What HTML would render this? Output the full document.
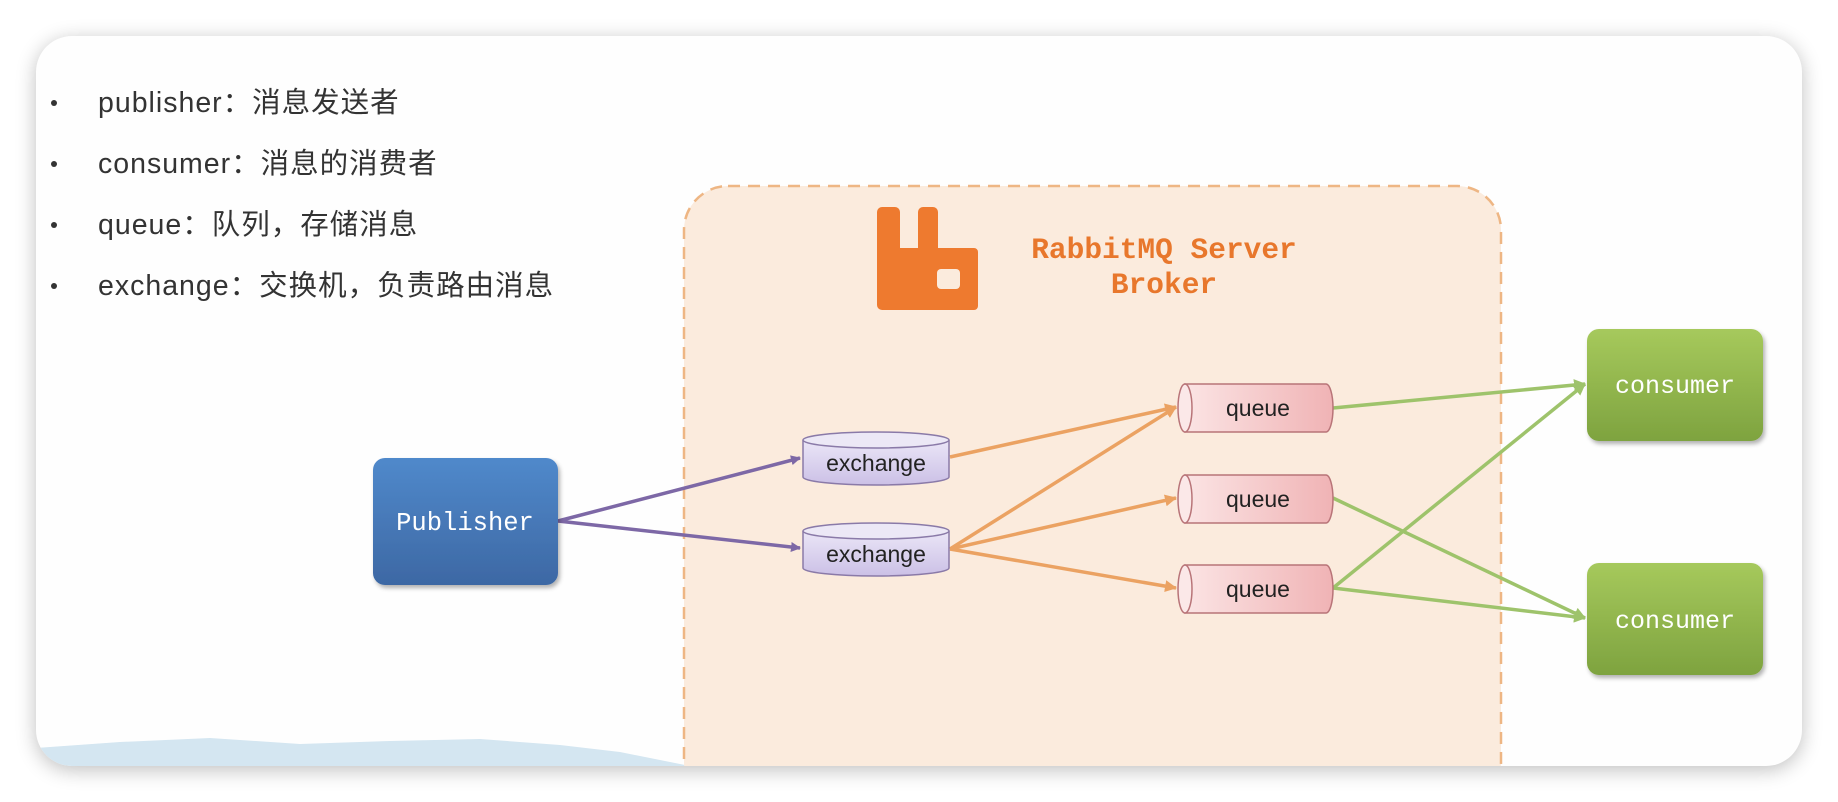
<!DOCTYPE html>
<html><head><meta charset="utf-8"><style>
html,body{margin:0;padding:0;background:#efefef;width:1838px;height:802px;overflow:hidden}
</style></head><body>
<svg width="1838" height="802" viewBox="0 0 1838 802" xmlns="http://www.w3.org/2000/svg">
<defs>
<filter id="sh" x="-5%" y="-5%" width="110%" height="115%"><feGaussianBlur stdDeviation="10"/></filter>
<filter id="ds" x="-10%" y="-10%" width="130%" height="130%"><feDropShadow dx="2" dy="3" stdDeviation="2" flood-opacity="0.3"/></filter>
<linearGradient id="pub" x1="0" y1="0" x2="0" y2="1"><stop offset="0" stop-color="#5089cb"/><stop offset="1" stop-color="#3d68a4"/></linearGradient>
<linearGradient id="con" x1="0" y1="0" x2="0" y2="1"><stop offset="0" stop-color="#a6c95c"/><stop offset="1" stop-color="#7ea33f"/></linearGradient>
<linearGradient id="ex" x1="0" y1="0" x2="0" y2="1"><stop offset="0" stop-color="#ebe6f7"/><stop offset="1" stop-color="#cbc0e6"/></linearGradient>
<linearGradient id="qu" x1="0" y1="0" x2="1" y2="0"><stop offset="0" stop-color="#fbe4e4"/><stop offset="1" stop-color="#f0b3b5"/></linearGradient>
<marker id="ap" markerWidth="10" markerHeight="10" refX="9" refY="5" orient="auto" markerUnits="userSpaceOnUse"><path d="M0,0 L10,5 L0,10 z" fill="#7d68a6"/></marker>
<marker id="ao" markerWidth="12" markerHeight="12" refX="11" refY="6" orient="auto" markerUnits="userSpaceOnUse"><path d="M0,0 L12,6 L0,12 z" fill="#eba262"/></marker>
<marker id="ag" markerWidth="12" markerHeight="12" refX="11" refY="6" orient="auto" markerUnits="userSpaceOnUse"><path d="M0,0 L12,6 L0,12 z" fill="#9ec36b"/></marker>
</defs>
<rect x="0" y="0" width="1838" height="802" fill="#ffffff"/>
<rect x="36" y="40" width="1766" height="730" rx="36" fill="#000" opacity="0.25" filter="url(#sh)"/>
<rect x="36" y="36" width="1766" height="730" rx="36" fill="#fefefe"/>
<clipPath id="cc"><rect x="36" y="36" width="1766" height="730" rx="36"/></clipPath>
<g clip-path="url(#cc)">
<path d="M36,748 L120,742 L210,738 L300,744 L390,741 L480,739 L560,745 L620,752 L690,766 L36,766 z" fill="#d4e6f1"/>
<rect x="684" y="186" width="817" height="620" rx="44" fill="#fbebdd" stroke="#eeb684" stroke-width="2.5" stroke-dasharray="12,8"/>
</g>
<g font-family="'Liberation Sans','Noto Sans CJK SC',sans-serif" font-size="28.5" letter-spacing="1" fill="#333">
<circle cx="54" cy="103" r="3" fill="#333"/><text x="98" y="112">publisher：消息发送者</text>
<circle cx="54" cy="164" r="3" fill="#333"/><text x="98" y="173">consumer：消息的消费者</text>
<circle cx="54" cy="225" r="3" fill="#333"/><text x="98" y="234">queue：队列，存储消息</text>
<circle cx="54" cy="286" r="3" fill="#333"/><text x="98" y="295">exchange：交换机，负责路由消息</text>
</g>
<path d="M884,207 h11 a5,5 0 0 1 5,5 v36 h18 v-36 a5,5 0 0 1 5,-5 h10 a5,5 0 0 1 5,5 v36 h36 a4,4 0 0 1 4,4 v54 a4,4 0 0 1 -4,4 h-92 a5,5 0 0 1 -5,-5 v-93 a5,5 0 0 1 5,-5z" fill="#ee7a2f"/>
<rect x="937" y="269" width="23" height="20" rx="4" fill="#fbebdd"/>
<g font-family="'Liberation Mono',monospace" font-weight="bold" font-size="29.5" fill="#e8772c" text-anchor="middle">
<text x="1164" y="258">RabbitMQ Server</text><text x="1164" y="293">Broker</text></g>
<g stroke-width="3.5" fill="none">
<line x1="558" y1="521" x2="800" y2="458" stroke="#7d68a6" marker-end="url(#ap)"/>
<line x1="558" y1="521" x2="800" y2="548" stroke="#7d68a6" marker-end="url(#ap)"/>
<line x1="950" y1="457" x2="1176" y2="407" stroke="#eba262" marker-end="url(#ao)"/>
<line x1="950" y1="549" x2="1176" y2="407" stroke="#eba262" marker-end="url(#ao)"/>
<line x1="950" y1="549" x2="1176" y2="498" stroke="#eba262" marker-end="url(#ao)"/>
<line x1="950" y1="549" x2="1176" y2="588" stroke="#eba262" marker-end="url(#ao)"/>
<line x1="1333" y1="408" x2="1585" y2="384" stroke="#9ec36b" marker-end="url(#ag)"/>
<line x1="1333" y1="498" x2="1585" y2="618" stroke="#9ec36b" marker-end="url(#ag)"/>
<line x1="1333" y1="588" x2="1585" y2="384" stroke="#9ec36b" marker-end="url(#ag)"/>
<line x1="1333" y1="588" x2="1585" y2="618" stroke="#9ec36b" marker-end="url(#ag)"/>
</g>
<rect x="373" y="458" width="185" height="127" rx="12" fill="url(#pub)" filter="url(#ds)"/>
<text x="465" y="530" font-family="'Liberation Mono',monospace" font-size="25.5" fill="#fff" text-anchor="middle">Publisher</text>
<g filter="url(#ds)">
<rect x="1587" y="329" width="176" height="112" rx="12" fill="url(#con)"/>
<rect x="1587" y="563" width="176" height="112" rx="12" fill="url(#con)"/></g>
<g font-family="'Liberation Mono',monospace" font-size="25" fill="#fff" text-anchor="middle">
<text x="1675" y="393">consumer</text><text x="1675" y="628">consumer</text></g>
<g stroke="#8a7aa8" stroke-width="1.5">
<path d="M803,440 v37 a73,8 0 0 0 146,0 v-37" fill="url(#ex)"/><ellipse cx="876" cy="440" rx="73" ry="8" fill="#ece8f6"/>
<path d="M803,531 v37 a73,8 0 0 0 146,0 v-37" fill="url(#ex)"/><ellipse cx="876" cy="531" rx="73" ry="8" fill="#ece8f6"/>
</g>
<g font-family="'Liberation Sans',sans-serif" font-size="23" fill="#222" text-anchor="middle">
<text x="876" y="471">exchange</text><text x="876" y="562">exchange</text></g>
<g stroke="#b87478" stroke-width="1.5" fill="url(#qu)">
<path d="M1185,384 h141 a7,24 0 0 1 0,48 h-141 z"/><ellipse cx="1185" cy="408" rx="7" ry="24" fill="#fbe8e8"/>
<path d="M1185,475 h141 a7,24 0 0 1 0,48 h-141 z"/><ellipse cx="1185" cy="499" rx="7" ry="24" fill="#fbe8e8"/>
<path d="M1185,565 h141 a7,24 0 0 1 0,48 h-141 z"/><ellipse cx="1185" cy="589" rx="7" ry="24" fill="#fbe8e8"/>
</g>
<g font-family="'Liberation Sans',sans-serif" font-size="23" fill="#222" text-anchor="middle">
<text x="1258" y="416">queue</text><text x="1258" y="507">queue</text><text x="1258" y="597">queue</text></g>
</svg>
</body></html>
